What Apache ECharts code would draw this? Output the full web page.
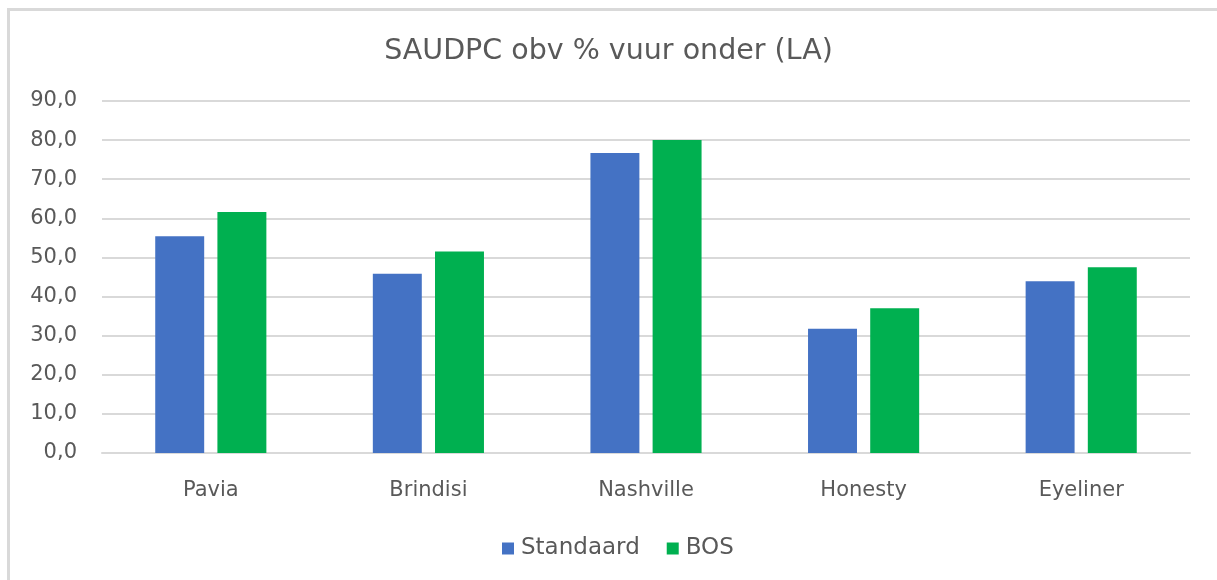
<!DOCTYPE html>
<html>
<head>
<meta charset="utf-8">
<script src="https://cdn.jsdelivr.net/npm/echarts@6/dist/echarts.min.js"></script>
<style>
html, body { margin: 0; padding: 0; background: #ffffff; overflow: hidden; }
#frame {
	position: absolute; left: 7px; top: 8px; width: 1207px; height: 569px;
	border-left: 3px solid #d9d9d9; border-top: 3px solid #d9d9d9;
}
#box { position: absolute; left: 0; top: 0; width: 1217px; height: 580px; }
</style>
</head>
<body>
<div id="frame"></div>
<div id="box"></div>
<script>
// rassen
const categories = ["Pavia", "Brindisi", "Nashville", "Honesty", "Eyeliner"]
// SAUDPC waarden
const standaard = [55.4, 45.8, 76.7, 31.8, 43.9]
const bos = [61.6, 51.5, 80.0, 37.0, 47.5]
const seriesNames = ["Standaard", "BOS"]

const font = "Verdana, 'DejaVu Sans', sans-serif"
let myCharts = echarts.init(document.getElementById("box"))
let option = {
	color: ["#4472C4", "#00B050"],
	title: {
		text: "SAUDPC obv % vuur onder (LA)",
		left: "center",
		top: 32,
		textStyle: { fontFamily: font, fontSize: 28.5, fontWeight: "normal", color: "#595959" },
	},
	legend: {
		top: 532,
		left: 497,
		itemWidth: 12,
		itemHeight: 12,
		itemGap: 27,
		icon: "rect",
		textStyle: { fontFamily: font, fontSize: 23, color: "#595959", padding: [0, 0, 0, 2] },
		data: seriesNames,
	},
	grid: { left: 102, right: 27, top: 101, bottom: 127 },
	xAxis: {
		type: "category",
		data: categories,
		axisTick: { show: false },
		axisLine: { lineStyle: { color: "#d9d9d9", width: 2 } },
		axisLabel: { fontFamily: font, fontSize: 21, color: "#595959", margin: 27 },
	},
	yAxis: {
		type: "value",
		min: 0,
		max: 90,
		interval: 10,
		splitLine: { lineStyle: { color: "#d9d9d9", width: 2 } },
		axisLabel: {
			fontFamily: font, fontSize: 21, color: "#595959", margin: 25,
			formatter: (v) => v.toFixed(1).replace(".", ","),
		},
	},
	series: [
		{ name: seriesNames[0], type: "bar", data: standaard, barWidth: "22.5%", barGap: "27%" },
		{ name: seriesNames[1], type: "bar", data: bos, barWidth: "22.5%", barGap: "27%" },
	],
}
myCharts.setOption(option)
</script>
</body>
</html>
